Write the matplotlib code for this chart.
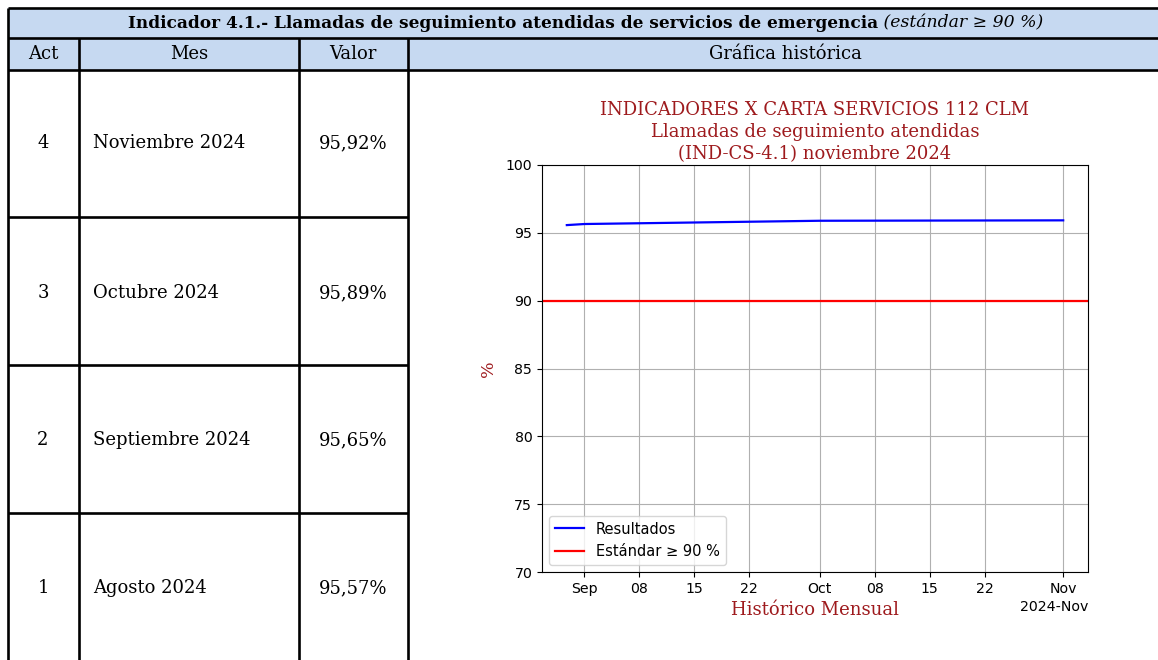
import matplotlib
matplotlib.use("Agg")
import matplotlib.pyplot as plt
import matplotlib.dates as mdates
import numpy as np
import pandas as pd

# ---- data ----
act = [4, 3, 2, 1]
meses = ["Noviembre 2024", "Octubre 2024", "Septiembre 2024", "Agosto 2024"]
valores_txt = ["95,92%", "95,89%", "95,65%", "95,57%"]
fechas = ["2024-08-29 18:00", "2024-09-01 00:00", "2024-10-01 00:00", "2024-11-01 00:00"]
resultados = [95.57, 95.65, 95.89, 95.92]
estandar = 90
yticks = [70, 75, 80, 85, 90, 95, 100]

W, H = 1158, 660
fig = plt.figure(figsize=(W / 100, H / 100), dpi=100)
tab = fig.add_axes([0, 0, 1, 1])
tab.set_xlim(0, W)
tab.set_ylim(H, 0)
tab.axis("off")

head_col = "#C6D9F1"
serif = ["DejaVu Serif"]
lw = 1.9
tfs = 13.0

# header fill
tab.add_patch(plt.Rectangle((8, 8), W - 8, 62, facecolor=head_col, edgecolor="none", zorder=0))
# horizontal lines
for y in (8, 38, 70):
    tab.plot([8, W], [y, y], color="black", lw=lw, solid_capstyle="butt")
for y in (217, 365, 513):
    tab.plot([8, 408], [y, y], color="black", lw=lw, solid_capstyle="butt")
# vertical lines
tab.plot([8, 8], [8, H], color="black", lw=lw, solid_capstyle="butt")
for x in (79, 299, 408):
    tab.plot([x, x], [38, H], color="black", lw=lw, solid_capstyle="butt")

# header texts
fig.canvas.draw()
r = fig.canvas.get_renderer()
t1 = tab.text(0, 23, "Indicador 4.1.- Llamadas de seguimiento atendidas de servicios de emergencia",
              family=serif, fontsize=12.2, fontweight="bold", ha="left", va="center")
t2 = tab.text(0, 23, " (estándar ≥ 90 %)", family=serif, fontsize=12.4, style="italic",
              ha="left", va="center")
w1 = t1.get_window_extent(r).width
w2 = t2.get_window_extent(r).width
x0 = 586 - (w1 + w2) / 2
t1.set_x(x0)
t2.set_x(x0 + w1)

for x, s in ((43, "Act"), (189, "Mes"), (353, "Valor"), (785, "Gráfica histórica")):
    tab.text(x, 54, s, family=serif, fontsize=tfs, ha="center", va="center")

row_y = [143, 293, 440, 588]
for i in range(4):
    tab.text(43, row_y[i], str(act[i]), family=serif, fontsize=tfs, ha="center", va="center")
    tab.text(93, row_y[i], meses[i], family=serif, fontsize=tfs, ha="left", va="center")
    tab.text(353, row_y[i], valores_txt[i], family=serif, fontsize=tfs, ha="center", va="center")

# ---- chart ----
ax = fig.add_axes([542 / W, (H - 572) / H, (1088 - 542) / W, (572 - 165) / H])
x = pd.to_datetime(fechas, format="%Y-%m-%d %H:%M")
ax.plot(x, resultados, color="blue", lw=1.6, label="Resultados")
ax.axhline(estandar, color="red", lw=1.6, label="Estándar ≥ 90 %")
ax.set_ylim(70, 100)
ax.set_yticks(yticks)
loc = mdates.AutoDateLocator()
ax.xaxis.set_major_locator(loc)
ax.xaxis.set_major_formatter(mdates.ConciseDateFormatter(loc))
ax.grid(True, color="#b0b0b0", lw=0.8)
ax.tick_params(labelsize=10.2)
ax.xaxis.get_offset_text().set_fontsize(10.2)
red = "#9E1A1D"
ax.set_title("INDICADORES X CARTA SERVICIOS 112 CLM\nLlamadas de seguimiento atendidas\n(IND-CS-4.1) noviembre 2024",
             family=serif, color=red, fontsize=13.0, linespacing=1.3, pad=4)
ax.set_xlabel("Histórico Mensual", family=serif, color=red, fontsize=13.0, labelpad=4)
ax.set_ylabel("%", family=serif, color=red, fontsize=12.5, labelpad=6)
ax.legend(loc="lower left", fontsize=10.5)

fig.savefig("out.png", dpi=100)
